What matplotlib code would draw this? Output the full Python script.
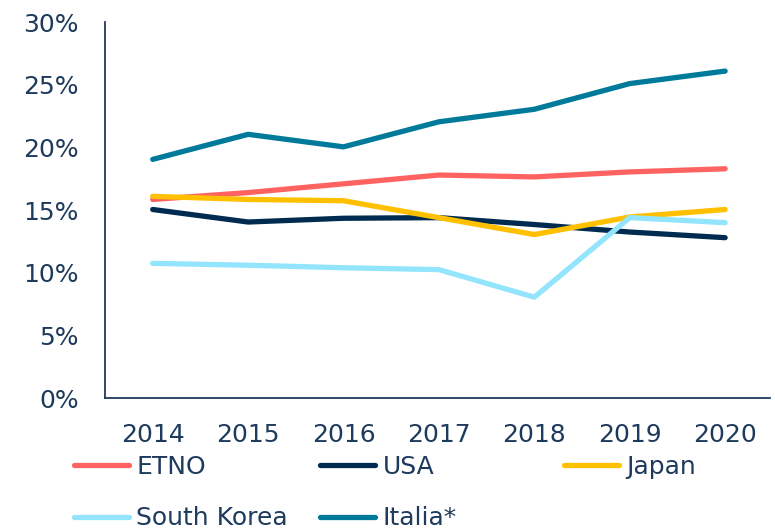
# Quota di mercato: ETNO, USA, Japan, South Korea, Italia* 2014-2020

import matplotlib.pyplot as plt
from matplotlib.ticker import PercentFormatter

plt.rcParams['font.family'] = ['DejaVu Sans']

# dati
anni = ['2014', '2015', '2016', '2017', '2018', '2019', '2020']
etno = [15.85, 16.4, 17.1, 17.8, 17.65, 18.05, 18.3]
usa = [15.05, 14.05, 14.35, 14.4, 13.85, 13.25, 12.8]
japan = [16.1, 15.85, 15.75, 14.4, 13.05, 14.45, 15.05]
south_korea = [10.75, 10.6, 10.4, 10.25, 8.05, 14.4, 14.0]
italia = [19.05, 21.05, 20.05, 22.05, 23.05, 25.1, 26.1]

testo = '#1e3a5c'

fig = plt.figure(figsize=(7.75, 5.29), dpi=100)
ax = fig.add_axes([0.1355, 0.2476, 0.858, 0.7104])

x = range(len(anni))
kw = dict(lw=3.8, solid_capstyle='round', solid_joinstyle='round')
l_etno, = ax.plot(x, etno, color='#ff6361', label='ETNO', **kw)
l_usa, = ax.plot(x, usa, color='#002b50', label='USA', **kw)
l_jap, = ax.plot(x, japan, color='#ffc000', label='Japan', **kw)
l_sk, = ax.plot(x, south_korea, color='#93e4fd', label='South Korea', **kw)
l_it, = ax.plot(x, italia, color='#007a9a', label='Italia*', **kw)

ax.set_xlim(-0.5, 6.47)
ax.set_ylim(0, 30)
ax.set_yticks(range(0, 31, 5))
ax.yaxis.set_major_formatter(PercentFormatter(decimals=0))
ax.set_xticks(list(x))
ax.set_xticklabels(anni)

for s in ['top', 'right']:
    ax.spines[s].set_visible(False)
for s in ['left', 'bottom']:
    ax.spines[s].set_color('#1e3a5c')
    ax.spines[s].set_linewidth(1.3)
ax.tick_params(axis='both', length=0, labelsize=18, labelcolor=testo)
ax.tick_params(axis='y', pad=19)
ax.tick_params(axis='x', pad=18)

# legenda in due blocchi per avere le colonne al posto giusto
leg_kw = dict(loc='upper left', frameon=False, fontsize=18, labelcolor=testo,
              handlelength=2.2, handletextpad=0.3, labelspacing=1.1,
              borderpad=0, borderaxespad=0)
leg1 = fig.legend([l_etno, l_sk, l_usa, l_it],
                  ['ETNO', 'South Korea', 'USA', 'Italia*'],
                  ncol=2, columnspacing=1.3,
                  bbox_to_anchor=(0.095, 0.140), **leg_kw)
leg2 = fig.legend([l_jap], ['Japan'], bbox_to_anchor=(0.728, 0.140), **leg_kw)

plt.savefig('out.png')
